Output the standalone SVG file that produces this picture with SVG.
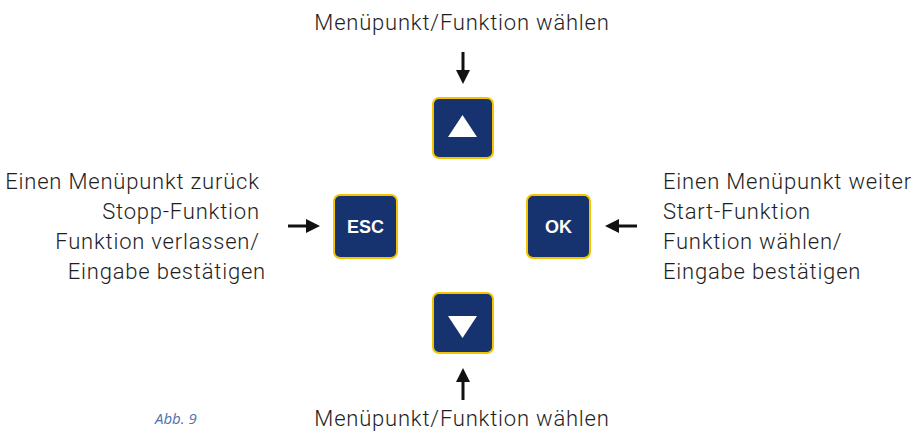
<svg xmlns="http://www.w3.org/2000/svg" width="914" height="434" viewBox="0 0 914 434">
<style>
.lbl{font-family:Roboto,"Liberation Sans",sans-serif;font-weight:300;font-size:22px;letter-spacing:0.8px;fill:#1e1e1e}
.key{fill:#17336f;stroke:#f5c400;stroke-width:2}
.kt{font-family:"Liberation Sans",Arial,sans-serif;font-weight:bold;font-size:18px;fill:#fff;text-anchor:middle}
.tri{fill:#fff}
.ar{stroke:#111;stroke-width:3;fill:none}
.ah{fill:#111}
</style>
<rect width="914" height="434" fill="#fff"/>
<g id="up">
<rect class="key" x="433" y="98" width="60" height="60" rx="6"/>
<polygon class="tri" points="462.5,115 448,137 477,137"/>
</g>
<g id="esc">
<rect class="key" x="334" y="195" width="63" height="63" rx="6"/>
<text class="kt" x="365.5" y="233">ESC</text>
</g>
<g id="ok">
<rect class="key" x="527" y="195" width="63" height="63" rx="6"/>
<text class="kt" x="558.5" y="233">OK</text>
</g>
<g id="down">
<rect class="key" x="433" y="293" width="60" height="60" rx="6"/>
<polygon class="tri" points="448,316 477,316 462.5,338"/>
</g>
<g id="connectors">
<line class="ar" x1="463" y1="52" x2="463" y2="72"/>
<polygon class="ah" points="456,70 470,70 463,84"/>
<line class="ar" x1="288" y1="226" x2="308" y2="226"/>
<polygon class="ah" points="306,219 306,233 320,226"/>
<line class="ar" x1="637" y1="226" x2="617" y2="226"/>
<polygon class="ah" points="619,219 619,233 605,226"/>
<line class="ar" x1="463" y1="400" x2="463" y2="380"/>
<polygon class="ah" points="456,382 470,382 463,368"/>
</g>
<g id="labels">
<text class="lbl" x="462" y="30" text-anchor="middle">Menüpunkt/Funktion wählen</text>
<text class="lbl" x="462" y="426" text-anchor="middle">Menüpunkt/Funktion wählen</text>
<text class="lbl" text-anchor="end">
<tspan x="266" y="189">Einen Menüpunkt zurück</tspan>
<tspan x="266" y="219">Stopp-Funktion</tspan>
<tspan x="266" y="249">Funktion verlassen/</tspan>
<tspan x="266" y="279">Eingabe bestätigen</tspan>
</text>
<text class="lbl">
<tspan x="663" y="189">Einen Menüpunkt weiter</tspan>
<tspan x="663" y="219">Start-Funktion</tspan>
<tspan x="663" y="249">Funktion wählen/</tspan>
<tspan x="663" y="279">Eingabe bestätigen</tspan>
</text>
<text x="155" y="424" font-family="'Open Sans',sans-serif" font-style="italic" font-size="15" fill="#4f72ad">Abb. 9</text>
</g>
</svg>
